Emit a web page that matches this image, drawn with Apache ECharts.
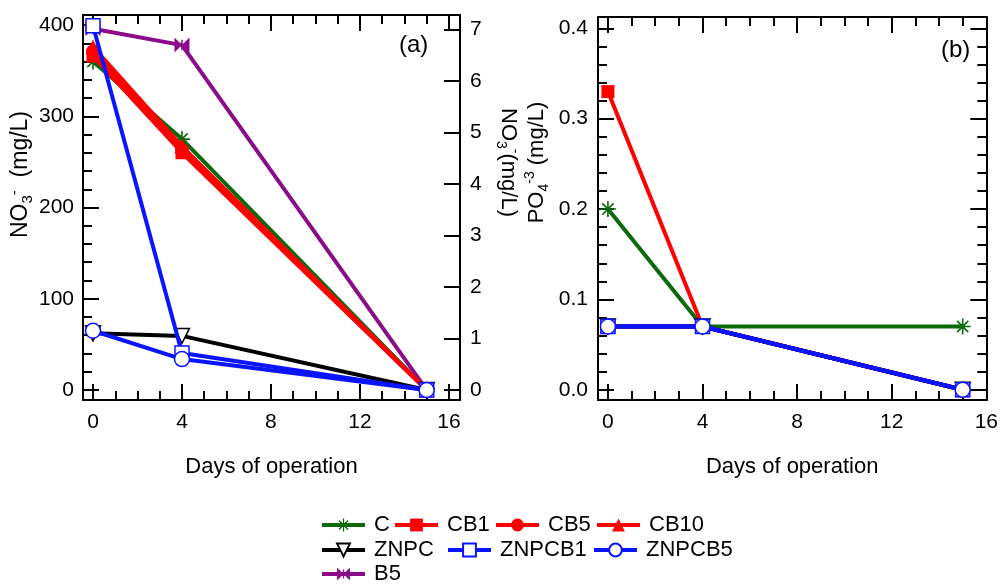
<!DOCTYPE html>
<html>
<head>
<meta charset="utf-8">
<script src="https://cdn.jsdelivr.net/npm/echarts@6/dist/echarts.min.js"></script>
<style>
html,body{margin:0;padding:0;background:#fff;}
#chart{width:1001px;height:585px;}
</style>
</head>
<body>
<div id="chart"></div>
<script>
// ---------- data ----------
const days = [0, 4, 15];

// Panel (a): NO3- (mg/L), left axis
const no3_C    = [360, 275, 0];
const no3_CB1  = [366, 260, 0];
const no3_CB5  = [371, 263, 0];
const no3_CB10 = [376, 267, 0];
const no3_B5   = [396, 378, 0];
// Panel (a): NO3- (mg/L), right axis
const no3_ZNPC   = [1.1, 1.05, 0];
const no3_ZNPCB1 = [7.07, 0.72, 0];
const no3_ZNPCB5 = [1.15, 0.6, 0];

// Panel (b): PO4-3 (mg/L)
const po4_C      = [0.2, 0.07, 0.07];
const po4_CB1    = [0.33, 0.07, 0];
const po4_CB5    = [0.07, 0.07, 0];
const po4_CB10   = [0.07, 0.07, 0];
const po4_B5     = [0.07, 0.07, 0];
const po4_ZNPC   = [0.07, 0.07, 0];
const po4_ZNPCB1 = [0.07, 0.07, 0];
const po4_ZNPCB5 = [0.07, 0.07, 0];

// tick labels / tick positions
const xMajor = [0, 4, 8, 12, 16];
const xMinor = [0,1,2,3,4,5,6,7,8,9,10,11,12,13,14,15,16];
const aLeftMajor = [0, 100, 200, 300, 400];
const aLeftMinor = [0,20,40,60,80,100,120,140,160,180,200,220,240,260,280,300,320,340,360,380,400];
const aRightMajor = [0,1,2,3,4,5,6,7];
const bMajor = [0, 0.1, 0.2, 0.3, 0.4];
const bMinor = [0,0.02,0.04,0.06,0.08,0.1,0.12,0.14,0.16,0.18,0.2,0.22,0.24,0.26,0.28,0.3,0.32,0.34,0.36,0.38,0.4];

const legendRows = [['C', 'CB1', 'CB5', 'CB10'], ['ZNPC', 'ZNPCB1', 'ZNPCB5'], ['B5']];

// ---------- styles / layout ----------
const FONT = 'Liberation Sans, Arial, sans-serif';
const ASTERISK = 'path://M9,0L11,0L11,20L9,20Z M0,9L20,9L20,11L0,11Z M3.64,2.22L17.78,16.36L16.36,17.78L2.22,3.64Z M3.64,17.78L2.22,16.36L16.36,2.22L17.78,3.64Z';
const BOWTIE = 'path://M0,0L10,10L0,20Z M20,0L10,10L20,20Z M9,3L11,3L11,17L9,17Z';
const GREEN = '#0b6a0b', RED = '#ff0000', BLUE = '#0a14ff', PURPLE = '#8b0b8b', BLACK = '#000000';

const styles = {
  C:      {line: GREEN,  fill: GREEN,  border: GREEN,  symbol: ASTERISK, size: 16, rot: 0},
  CB1:    {line: RED,    fill: RED,    border: RED,    symbol: 'rect', size: 13, rot: 0},
  CB5:    {line: RED,    fill: RED,    border: RED,    symbol: 'circle', size: 14, rot: 0},
  CB10:   {line: RED,    fill: RED,    border: RED,    symbol: 'triangle', size: 15, rot: 0},
  ZNPC:   {line: BLACK,  fill: '#fff', border: BLACK,  symbol: 'triangle', size: 15, rot: 180},
  ZNPCB1: {line: BLUE,   fill: '#fff', border: BLUE,   symbol: 'rect', size: 14, rot: 0},
  ZNPCB5: {line: BLUE,   fill: '#fff', border: BLUE,   symbol: 'circle', size: 15, rot: 0},
  B5:     {line: PURPLE, fill: PURPLE, border: PURPLE, symbol: BOWTIE, size: 15, rot: 0}
};
// legend item left edges per row (px)
const legendLefts = [[320, 393, 494, 595], [320, 446, 592], [320]];
const legendTops = [514, 539, 563];

function mk(name, values, xi, yi, z) {
  const s = styles[name];
  return {
    name: name, type: 'line', xAxisIndex: xi, yAxisIndex: yi, z: z,
    data: days.map((d, i) => [d, values[i]]),
    symbol: s.symbol, symbolSize: s.size, symbolRotate: s.rot,
    showAllSymbol: true, animation: false,
    lineStyle: {color: s.line, width: 4},
    itemStyle: {color: s.fill, borderColor: s.border, borderWidth: s.fill === '#fff' ? 1.5 : 0},
    emphasis: {disabled: true}
  };
}

const axisLine = {show: true, onZero: false, lineStyle: {color: '#000', width: 2}};
const noLine = {show: false, onZero: false};
function tick(vals, len) {
  return {show: true, inside: true, length: len, customValues: vals, lineStyle: {color: '#000', width: 2}};
}
const labelStyle = {color: '#000', fontSize: 21, fontFamily: FONT};

function xAx(grid, pos, min, max, major, withLabel, name) {
  const ax = {
    type: 'value', gridIndex: grid, position: pos, min: min, max: max,
    axisLine: major ? axisLine : noLine,
    axisTick: major ? tick(xMajor, 16) : tick(xMinor, 9),
    axisLabel: withLabel ? Object.assign({show: true, margin: 12, customValues: xMajor}, labelStyle) : {show: false},
    splitLine: {show: false}
  };
  if (name) {
    ax.name = name; ax.nameLocation = 'middle'; ax.nameGap = 56;
    ax.nameTextStyle = {color: '#000', fontSize: 22, fontFamily: FONT};
  }
  return ax;
}

const rich = {
  n: {fontSize: 22, fontFamily: FONT, color: '#000', lineHeight: 28},
  sb: {fontSize: 14, fontFamily: FONT, color: '#000', lineHeight: 14, verticalAlign: 'bottom'},
  sp: {fontSize: 14, fontFamily: FONT, color: '#000', lineHeight: 14, verticalAlign: 'top'}
};
const richL = {
  n: {fontSize: 23, fontFamily: FONT, color: '#000', lineHeight: 28},
  sb: {fontSize: 15, fontFamily: FONT, color: '#000', lineHeight: 14, verticalAlign: 'bottom'},
  sp: {fontSize: 15, fontFamily: FONT, color: '#000', lineHeight: 14, verticalAlign: 'top'}
};

const legends = [];
legendRows.forEach((row, r) => row.forEach((nm, c) => {
  legends.push({
    data: [nm], left: legendLefts[r][c], top: legendTops[r], orient: 'horizontal',
    itemWidth: 43, itemHeight: 16, itemGap: 0, padding: 0, selectedMode: false,
    lineStyle: {width: 4},
    textStyle: {color: '#000', fontSize: 22, fontFamily: FONT, padding: [0, 0, 0, 4]}
  });
}));

const option = {
  animation: false,
  backgroundColor: '#fff',
  textStyle: {fontFamily: FONT},
  title: [
    {text: '(a)', left: 399, top: 33, padding: 0, textStyle: {fontSize: 24, fontWeight: 'normal', color: '#000', fontFamily: FONT}},
    {text: '(b)', left: 941, top: 38, padding: 0, textStyle: {fontSize: 24, fontWeight: 'normal', color: '#000', fontFamily: FONT}}
  ],
  grid: [
    {left: 83, top: 15, width: 377, height: 385, containLabel: false},
    {left: 598, top: 17, width: 394, height: 383, containLabel: false}
  ],
  xAxis: [
    xAx(0, 'bottom', -0.45, 16.5, true, true, 'Days of operation'),
    xAx(0, 'bottom', -0.45, 16.5, false, false),
    xAx(0, 'top', -0.45, 16.5, true, false),
    xAx(0, 'top', -0.45, 16.5, false, false),
    xAx(1, 'bottom', -0.42, 16, true, true, 'Days of operation'),
    xAx(1, 'bottom', -0.42, 16, false, false),
    xAx(1, 'top', -0.42, 16, true, false),
    xAx(1, 'top', -0.42, 16, false, false)
  ],
  yAxis: [
    {type: 'value', gridIndex: 0, position: 'left', min: -11, max: 411,
     axisLine: axisLine, axisTick: tick(aLeftMajor, 16),
     axisLabel: Object.assign({show: true, margin: 9, customValues: aLeftMajor}, labelStyle),
     splitLine: {show: false},
     name: '{n|NO}{sb|3}{sp|-}{n|  (mg/L)}', nameLocation: 'middle', nameGap: 48, nameRotate: 90,
     nameMoveOverlap: false,
     nameTextStyle: {rich: richL, padding: [8, 0, 0, 66]}},
    {type: 'value', gridIndex: 0, position: 'left', min: -11, max: 411,
     axisLine: noLine, axisTick: tick(aLeftMinor, 9), axisLabel: {show: false}, splitLine: {show: false}},
    {type: 'value', gridIndex: 0, position: 'right', min: -0.194, max: 7.278,
     axisLine: axisLine, axisTick: tick(aRightMajor, 16),
     axisLabel: Object.assign({show: true, margin: 10, customValues: aRightMajor}, labelStyle),
     splitLine: {show: false},
     name: '{n|NO}{sb|3}{sp|-}{n|(mg/L)}', nameLocation: 'middle', nameGap: 34, nameRotate: -90,
     nameTextStyle: {rich: rich, padding: [0, 90, 0, 0]}},
    {type: 'value', gridIndex: 1, position: 'left', min: -0.0113, max: 0.4125,
     axisLine: axisLine, axisTick: tick(bMajor, 16),
     axisLabel: Object.assign({show: true, margin: 10, customValues: bMajor, formatter: v => v.toFixed(1)}, labelStyle),
     splitLine: {show: false},
     name: '{n|PO}{sb|4}{sp|-3}{n| (mg/L)}', nameLocation: 'middle', nameGap: 47, nameRotate: 90,
     nameTextStyle: {rich: rich, padding: [0, 0, 0, 92]}},
    {type: 'value', gridIndex: 1, position: 'left', min: -0.0113, max: 0.4125,
     axisLine: noLine, axisTick: tick(bMinor, 9), axisLabel: {show: false}, splitLine: {show: false}},
    {type: 'value', gridIndex: 1, position: 'right', min: -0.0113, max: 0.4125,
     axisLine: axisLine, axisTick: tick(bMajor, 16), axisLabel: {show: false}, splitLine: {show: false}},
    {type: 'value', gridIndex: 1, position: 'right', min: -0.0113, max: 0.4125,
     axisLine: noLine, axisTick: tick(bMinor, 9), axisLabel: {show: false}, splitLine: {show: false}}
  ],
  legend: legends,
  series: [
    mk('B5', no3_B5, 0, 0, 2),
    mk('C', no3_C, 0, 0, 3),
    mk('CB1', no3_CB1, 0, 0, 4),
    mk('CB5', no3_CB5, 0, 0, 4),
    mk('CB10', no3_CB10, 0, 0, 4),
    mk('ZNPC', no3_ZNPC, 0, 2, 5),
    mk('ZNPCB1', no3_ZNPCB1, 0, 2, 6),
    mk('ZNPCB5', no3_ZNPCB5, 0, 2, 6),
    mk('B5', po4_B5, 4, 3, 2),
    mk('C', po4_C, 4, 3, 3),
    mk('CB1', po4_CB1, 4, 3, 4),
    mk('CB5', po4_CB5, 4, 3, 4),
    mk('CB10', po4_CB10, 4, 3, 4),
    mk('ZNPC', po4_ZNPC, 4, 3, 5),
    mk('ZNPCB1', po4_ZNPCB1, 4, 3, 6),
    mk('ZNPCB5', po4_ZNPCB5, 4, 3, 6)
  ]
};

const chart = echarts.init(document.getElementById('chart'), null, {renderer: 'canvas'});
chart.setOption(option);
</script>
</body>
</html>
